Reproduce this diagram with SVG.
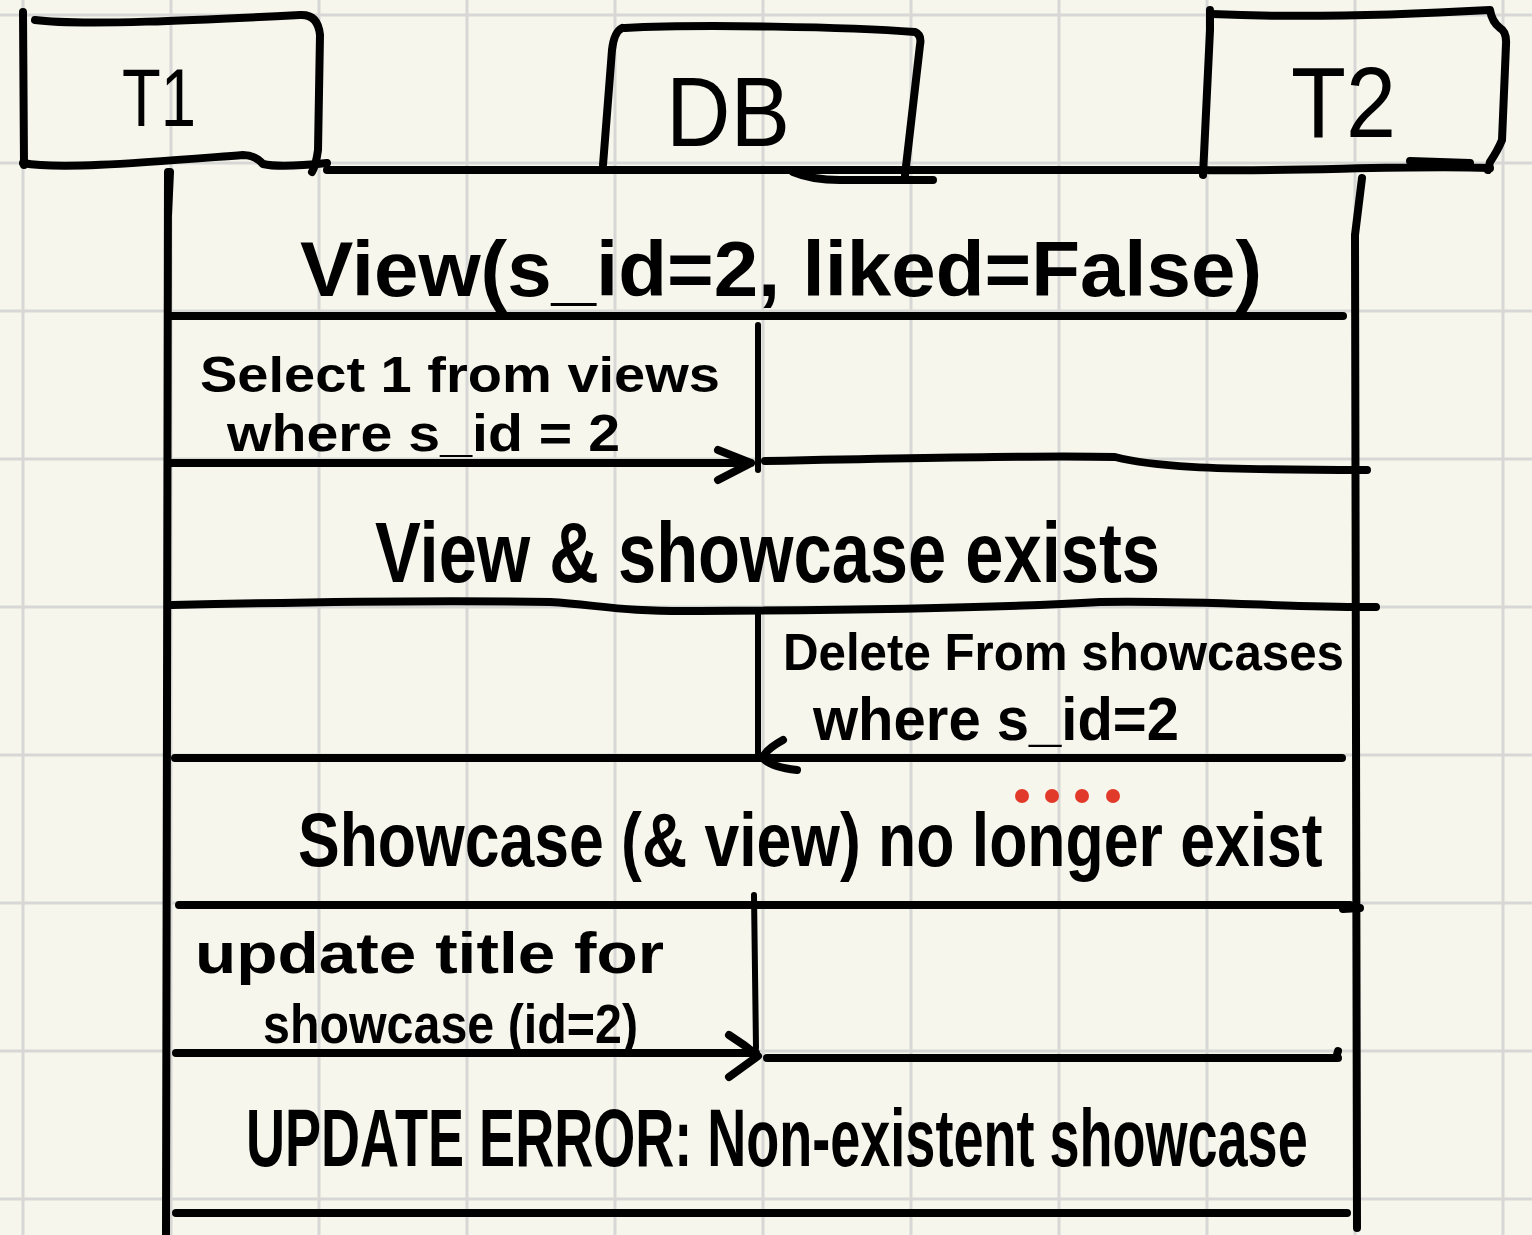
<svg xmlns="http://www.w3.org/2000/svg" width="1532" height="1235" viewBox="0 0 1532 1235">
<style>
.ink{fill:none;stroke:#000;stroke-width:8;stroke-linecap:round;stroke-linejoin:round}
.thin{stroke-width:6}
.grid{fill:none;stroke:#d7d7d5;stroke-width:3}
.hw{font-family:"Liberation Sans",Arial,sans-serif;font-weight:bold;fill:#000}
.box{font-family:"Liberation Sans",Arial,sans-serif;font-weight:normal;fill:#000}
.dot{fill:#e23a2a}
</style>
<rect width="1532" height="1235" fill="#f6f6ed"/>
<path class="grid" d="M23 0V1235M171 0V1235M319 0V1235M467 0V1235M615 0V1235M763 0V1235M911 0V1235M1059 0V1235M1207 0V1235M1355 0V1235M1503 0V1235M0 15H1532M0 163H1532M0 311H1532M0 459H1532M0 607H1532M0 755H1532M0 903H1532M0 1051H1532M0 1199H1532"/>

<g id="node-T1">
<path class="ink" d="M23,12 L24,165"/>
<path class="ink" d="M35,20 C80,26 200,20 300,15 Q318,14 320,35 L318,150 Q316,165 312,172"/>
<path class="ink" d="M23,163 C60,170 150,162 243,155 Q255,155 263,164 Q280,168 327,163"/>
<text class="box" x="122" y="126" font-size="82" textLength="74" lengthAdjust="spacingAndGlyphs">T1</text>
<path class="ink" d="M170,172 L168,215 M168,172 L166,1235"/>
</g>

<g id="node-DB">
<path class="ink" d="M622,28 Q614,32 612,50 L603,165"/>
<path class="ink" d="M625,28 C700,24 850,27 915,32 Q922,35 920,45 L905,175"/>
<path class="ink" d="M793,172 Q812,180 840,180 L933,180"/>
<text class="box" x="666" y="146" font-size="98" textLength="124" lengthAdjust="spacingAndGlyphs">DB</text>
</g>

<g id="node-T2">
<path class="ink" d="M1210,10 L1210,30 L1203,175"/>
<path class="ink" d="M1212,14 C1300,18 1400,15 1490,10 Q1492,22 1500,28 Q1507,32 1506,45 L1502,140 Q1498,150 1490,162 L1488,170"/>
<path class="ink" d="M1203,170 C1300,172 1400,165 1490,168 M1410,161 L1470,163"/>
<text class="box" x="1291" y="137" font-size="100" textLength="105" lengthAdjust="spacingAndGlyphs">T2</text>
<path class="ink" d="M1362,178 L1355,235 L1357,1228"/>
</g>

<g id="connectors">
<path class="ink" d="M327,170 L1203,170"/>
<path class="ink" d="M170,316 L1343,316"/>
<path class="ink" d="M170,463 L751,463 M718,450 L751,463 L718,480"/>
<path class="ink thin" d="M758,325 L758,470"/>
<path class="ink" d="M765,461 C900,458 1050,455 1115,457 C1150,466 1200,470 1367,470"/>
<path class="ink" d="M172,605 C300,602 450,600 550,602 C600,605 620,612 700,611 C850,610 1000,608 1100,602 C1200,600 1300,608 1376,607"/>
<path class="ink thin" d="M758,612 L758,753"/>
<path class="ink" d="M175,758 L1342,758 M783,740 Q765,750 763,758 Q770,767 797,770"/>
<path class="ink" d="M179,905 L1350,905 M1343,909 L1360,908"/>
<path class="ink thin" d="M754,895 L756,1048"/>
<path class="ink" d="M176,1053 L756,1053 M729,1035 Q745,1045 758,1056 L729,1077"/>
<path class="ink" d="M767,1058 L1338,1058 M1338,1051 L1336,1058"/>
<path class="ink" d="M176,1213 L1347,1213"/>
</g>

<g id="labels">
<text class="hw" x="300" y="296" font-size="78" textLength="962" lengthAdjust="spacingAndGlyphs">View(s_id=2, liked=False)</text>
<text class="hw" x="200" y="392" font-size="50" textLength="520" lengthAdjust="spacingAndGlyphs">Select 1 from views</text>
<text class="hw" x="227" y="451" font-size="52" textLength="393" lengthAdjust="spacingAndGlyphs">where s_id = 2</text>
<text class="hw" x="375" y="582" font-size="86" textLength="785" lengthAdjust="spacingAndGlyphs">View &amp; showcase exists</text>
<text class="hw" x="783" y="670" font-size="52" textLength="561" lengthAdjust="spacingAndGlyphs">Delete From showcases</text>
<text class="hw" x="813" y="740" font-size="62" textLength="366" lengthAdjust="spacingAndGlyphs">where s_id=2</text>
<text class="hw" transform="matrix(0.823 0 0 1 298 866)" x="0" y="0" font-size="76" textLength="1245" lengthAdjust="spacingAndGlyphs">Showcase (&amp; view) no longer exist</text>
<text class="hw" x="195" y="973" font-size="58" textLength="469" lengthAdjust="spacingAndGlyphs">update title for</text>
<text class="hw" x="263" y="1043" font-size="56" textLength="375" lengthAdjust="spacingAndGlyphs">showcase (id=2)</text>
<text class="hw" transform="matrix(0.657 0 0 1 246 1166)" x="0" y="0" font-size="82" textLength="1616" lengthAdjust="spacingAndGlyphs">UPDATE ERROR: Non-existent showcase</text>
<circle class="dot" cx="1022" cy="796" r="7"/>
<circle class="dot" cx="1052" cy="796" r="7"/>
<circle class="dot" cx="1082" cy="796" r="7"/>
<circle class="dot" cx="1113" cy="796" r="7"/>
</g>
</svg>
